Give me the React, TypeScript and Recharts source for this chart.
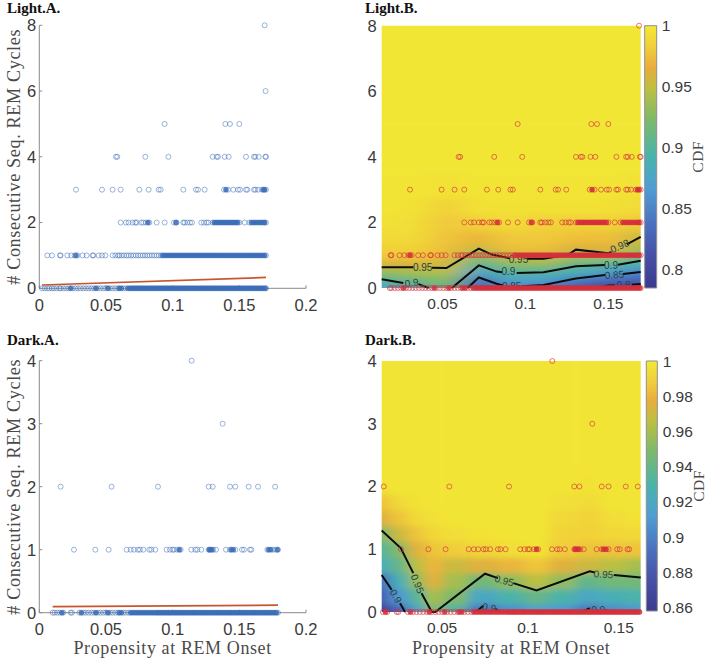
import React from "react";
import {
  Bar,
  ComposedChart,
  Line,
  Scatter,
  XAxis,
  YAxis,
} from "recharts";

// ---- Light: x values of the points on each y level ----
const lightRow0 = [
  0.002, 0.004, 0.006, 0.0075, 0.0095, 0.011, 0.013, 0.015, 0.016, 0.018, 0.02, 0.022, 0.0235, 0.025, 0.027, 0.029,
  0.031, 0.033, 0.035, 0.037, 0.039, 0.041, 0.0425, 0.044, 0.046, 0.048, 0.05, 0.0515, 0.053, 0.055, 0.057, 0.059,
  0.06, 0.0615, 0.063, 0.065, 0.0665, 0.068, 0.0692, 0.0705, 0.0718, 0.073, 0.0743, 0.0756, 0.0769, 0.078, 0.0794,
  0.0807, 0.082, 0.0833, 0.0846, 0.0859, 0.0871, 0.0884, 0.0897, 0.091, 0.0923, 0.0936, 0.0949, 0.0961, 0.0974,
  0.0987, 0.1, 0.1013, 0.1026, 0.1039, 0.1051, 0.1064, 0.1077, 0.109, 0.1103, 0.1116, 0.1129, 0.1141, 0.1154, 0.1167,
  0.118, 0.1193, 0.1206, 0.1219, 0.1231, 0.1244, 0.1257, 0.127, 0.1283, 0.1296, 0.1309, 0.1321, 0.1334, 0.1347,
  0.136, 0.1373, 0.1386, 0.1399, 0.1411, 0.1424, 0.1437, 0.145, 0.1463, 0.1476, 0.1489, 0.1501, 0.1514, 0.1527,
  0.154, 0.1553, 0.1566, 0.1579, 0.1591, 0.1604, 0.1617, 0.163, 0.1643, 0.1656, 0.1669, 0.1681, 0.1694, 0.17,
];
const lightRow1 = [
  0.006, 0.0095, 0.0155, 0.016, 0.021, 0.024, 0.0265, 0.0275, 0.0285, 0.0325, 0.0355, 0.04, 0.0405, 0.0445, 0.047,
  0.0495, 0.055, 0.057, 0.059, 0.06, 0.0618, 0.0636, 0.0654, 0.067, 0.0688, 0.0706, 0.0724, 0.0741, 0.0758, 0.0776,
  0.0793, 0.081, 0.0827, 0.0845, 0.0862, 0.088, 0.0897, 0.0915, 0.0925, 0.094, 0.0955, 0.097, 0.0985, 0.1, 0.1015,
  0.103, 0.1045, 0.106, 0.1075, 0.109, 0.1105, 0.112, 0.1135, 0.115, 0.1165, 0.118, 0.1195, 0.121, 0.1225, 0.124,
  0.1255, 0.127, 0.1285, 0.13, 0.1315, 0.133, 0.1345, 0.136, 0.1375, 0.139, 0.1405, 0.142, 0.1435, 0.145, 0.1465,
  0.148, 0.1495, 0.151, 0.1525, 0.154, 0.1555, 0.157, 0.1585, 0.16, 0.1615, 0.163, 0.1645, 0.166, 0.1675, 0.169, 0.17,
];
const lightRow2 = [
  0.061, 0.065, 0.067, 0.07, 0.072, 0.073, 0.0765, 0.078, 0.08, 0.0815, 0.0825, 0.088, 0.094, 0.101, 0.1025, 0.103,
  0.108, 0.109, 0.111, 0.113, 0.1145, 0.1215, 0.1235, 0.1255, 0.1268, 0.13, 0.1312, 0.1325, 0.1338, 0.135, 0.1362,
  0.1375, 0.1388, 0.14, 0.1412, 0.1425, 0.1438, 0.145, 0.1462, 0.1475, 0.1488, 0.15, 0.154, 0.1575, 0.159, 0.1605,
  0.162, 0.1635, 0.165, 0.1665, 0.168, 0.169, 0.17,
];
const lightRow3 = [
  0.0275, 0.047, 0.055, 0.061, 0.075, 0.082, 0.0895, 0.091, 0.108, 0.1175, 0.119, 0.124, 0.1385, 0.14, 0.1415, 0.1455,
  0.149, 0.1505, 0.155, 0.156, 0.161, 0.162, 0.164, 0.167, 0.168, 0.169, 0.17,
];
const lightRow4 = [
  0.0575, 0.0585, 0.0795, 0.0968, 0.13, 0.133, 0.134, 0.139, 0.142, 0.155, 0.161, 0.162, 0.1645, 0.1695, 0.17,
];
const lightRow5 = [0.094, 0.1395, 0.143, 0.15];
const lightRow6 = [0.1697];
const lightRow8 = [0.169];

// ---- Dark: x values of the points on each y level ----
const darkRow0 = [
  0.01, 0.0115, 0.0135, 0.0155, 0.017, 0.018, 0.0235, 0.0245, 0.03, 0.0315, 0.033, 0.035, 0.037, 0.039, 0.041, 0.0425,
  0.044, 0.046, 0.048, 0.05, 0.0515, 0.053, 0.055, 0.057, 0.059, 0.06, 0.0615, 0.063, 0.065, 0.067, 0.0685, 0.07,
  0.0715, 0.073, 0.0745, 0.076, 0.0775, 0.079, 0.0805, 0.082, 0.0835, 0.085, 0.0865, 0.088, 0.0892, 0.0905, 0.0918,
  0.093, 0.0943, 0.0956, 0.0969, 0.098, 0.0994, 0.1007, 0.102, 0.1033, 0.1046, 0.1059, 0.1071, 0.1084, 0.1097, 0.111,
  0.1123, 0.1136, 0.1149, 0.1161, 0.1174, 0.1187, 0.12, 0.1213, 0.1226, 0.1239, 0.1251, 0.1264, 0.1277, 0.129, 0.1303,
  0.1316, 0.1329, 0.1341, 0.1354, 0.1367, 0.138, 0.1393, 0.1406, 0.1419, 0.1431, 0.1444, 0.1457, 0.147, 0.1483, 0.1496,
  0.1509, 0.1521, 0.1534, 0.1547, 0.156, 0.1573, 0.1586, 0.1599, 0.1611, 0.1624, 0.1637, 0.165, 0.1663, 0.1676, 0.1689,
  0.1701, 0.1714, 0.1727, 0.174, 0.1753, 0.1766, 0.1779, 0.179,
];
const darkRow1 = [
  0.026, 0.042, 0.052, 0.0655, 0.0685, 0.071, 0.074, 0.0755, 0.078, 0.0825, 0.084, 0.087, 0.0955, 0.098, 0.1, 0.101,
  0.1035, 0.105, 0.106, 0.114, 0.117, 0.1185, 0.1215, 0.127, 0.1275, 0.1285, 0.1295, 0.1305, 0.1325, 0.14, 0.143, 0.144,
  0.1455, 0.147, 0.152, 0.1535, 0.158, 0.159, 0.171, 0.172, 0.1735, 0.175, 0.177, 0.1785, 0.179,
];
const darkRow2 = [0.016, 0.0542, 0.089, 0.127, 0.13, 0.143, 0.147, 0.157, 0.164, 0.1768];
const darkRow3 = [0.1375];
const darkRow4 = [0.1142];

// ---- Regression lines in the A panels ----
const lightFit = [
  { x: 0.002, y: 0.1 },
  { x: 0.17, y: 0.33 },
];
const darkFit = [
  { x: 0.01, y: 0.095 },
  { x: 0.179, y: 0.12 },
];

// ---- CDF surfaces, columns follow the x list, rows follow the y list ----
const lightHeatX = [0.01, 0.03, 0.05, 0.07, 0.09, 0.11, 0.13, 0.15, 0.17];
const lightHeatY = [0, 0.25, 0.5, 0.75, 1, 1.25, 1.5, 2, 2.5, 3, 4, 6, 8];
const lightHeat = [
  [0.875, 0.885, 0.91, 0.82, 0.85, 0.845, 0.815, 0.795, 0.79],
  [0.9, 0.915, 0.925, 0.84, 0.875, 0.87, 0.845, 0.83, 0.825],
  [0.93, 0.94, 0.945, 0.875, 0.9, 0.9, 0.885, 0.87, 0.85],
  [0.96, 0.96, 0.955, 0.905, 0.93, 0.935, 0.91, 0.905, 0.89],
  [0.98, 0.98, 0.97, 0.93, 0.955, 0.96, 0.94, 0.945, 0.92],
  [0.985, 0.985, 0.975, 0.955, 0.975, 0.975, 0.96, 0.965, 0.94],
  [0.99, 0.99, 0.977, 0.97, 0.98, 0.98, 0.975, 0.975, 0.955],
  [0.995, 0.992, 0.98, 0.985, 0.99, 0.985, 0.985, 0.985, 0.98],
  [0.997, 0.995, 0.985, 0.995, 0.995, 0.995, 0.995, 0.995, 0.99],
  [0.997, 0.997, 0.995, 0.997, 0.997, 0.997, 0.997, 0.997, 0.995],
  [0.998, 0.998, 0.998, 0.998, 0.998, 0.998, 0.998, 0.998, 0.998],
  [0.998, 0.998, 0.998, 0.998, 0.998, 0.998, 0.998, 0.998, 0.998],
  [0.998, 0.998, 0.998, 0.998, 0.998, 0.998, 0.998, 0.998, 0.998],
];

const darkHeatX = [0.0148, 0.025, 0.035, 0.045, 0.055, 0.075, 0.09, 0.105, 0.12, 0.135, 0.15, 0.1657];
const darkHeatY = [0, 0.25, 0.5, 0.75, 1, 1.25, 1.5, 1.75, 2, 2.5, 3, 4];
const darkHeat = [
  [0.865, 0.885, 0.915, 0.95, 0.93, 0.895, 0.905, 0.915, 0.91, 0.895, 0.905, 0.91],
  [0.885, 0.91, 0.935, 0.96, 0.95, 0.92, 0.93, 0.94, 0.93, 0.92, 0.925, 0.93],
  [0.895, 0.925, 0.955, 0.975, 0.96, 0.945, 0.955, 0.965, 0.955, 0.94, 0.945, 0.945],
  [0.925, 0.94, 0.965, 0.98, 0.97, 0.975, 0.98, 0.985, 0.975, 0.97, 0.965, 0.96],
  [0.935, 0.95, 0.975, 0.985, 0.988, 0.992, 0.995, 0.997, 0.988, 0.985, 0.985, 0.985],
  [0.95, 0.97, 0.985, 0.992, 0.995, 0.997, 0.998, 0.998, 0.991, 0.99, 0.992, 0.993],
  [0.975, 0.985, 0.993, 0.996, 0.998, 0.998, 0.998, 0.998, 0.993, 0.991, 0.995, 0.997],
  [0.985, 0.993, 0.997, 0.998, 0.998, 0.998, 0.998, 0.998, 0.996, 0.994, 0.998, 0.998],
  [0.997, 0.998, 0.998, 0.998, 0.998, 0.998, 0.998, 0.998, 0.998, 0.997, 0.998, 0.998],
  [0.998, 0.998, 0.998, 0.998, 0.998, 0.998, 0.998, 0.998, 0.998, 0.998, 0.998, 0.998],
  [0.998, 0.998, 0.998, 0.998, 0.998, 0.998, 0.998, 0.998, 0.998, 0.998, 0.998, 0.998],
  [0.998, 0.998, 0.998, 0.998, 0.998, 0.998, 0.998, 0.998, 0.998, 0.998, 0.998, 0.998],
];

// ---- Contours, one list per unbroken piece of line ----
const lightContours = [
  [[0.01, 0.63], [0.0296, 0.63]],
  [[0.041, 0.62], [0.05, 0.61], [0.07, 1.2], [0.078, 1.02], [0.0893, 0.91]],
  [[0.0996, 0.89], [0.11, 0.89], [0.125, 1.01], [0.13, 1.17], [0.15, 1.06], [0.152, 1.1]],
  [[0.1614, 1.33], [0.17, 1.56]],
  [[0.01, 0.27], [0.0233, 0.15]],
  [[0.0327, 0.12], [0.039, 0]],
  [[0.0533, 0], [0.07, 0.69], [0.081, 0.5], [0.0845, 0.48]],
  [[0.0934, 0.46], [0.11, 0.48], [0.13, 0.66], [0.148, 0.7]],
  [[0.156, 0.71], [0.17, 0.83]],
  [[0.063, 0], [0.07, 0.32], [0.081, 0.13], [0.085, 0.08]],
  [[0.0965, 0.05], [0.11, 0.09], [0.13, 0.29], [0.148, 0.4]],
  [[0.159, 0.43], [0.17, 0.49]],
  [[0.142, 0], [0.15, 0.08], [0.154, 0.08]],
  [[0.1645, 0.1], [0.17, 0.12]],
];
const lightContourLabels = [
  { x: 0.0353, y: 0.62, text: "0.95", angle: 0 },
  { x: 0.0945, y: 0.88, text: "0.95", angle: 0 },
  { x: 0.157, y: 1.28, text: "0.98", angle: -24 },
  { x: 0.0285, y: 0.16, text: "0.9", angle: -8 },
  { x: 0.0883, y: 0.49, text: "0.9", angle: 0 },
  { x: 0.1517, y: 0.7, text: "0.9", angle: 0 },
  { x: 0.0903, y: 0.05, text: "0.85", angle: 0 },
  { x: 0.1538, y: 0.4, text: "0.85", angle: -4 },
  { x: 0.1594, y: 0.08, text: "0.8", angle: 0 },
];

const darkContours = [
  [[0.0148, 1.3], [0.0259, 1.02], [0.0332, 0.62]],
  [[0.038, 0.3], [0.044, 0], [0.046, 0], [0.075, 0.61], [0.0825, 0.54]],
  [[0.0915, 0.46], [0.105, 0.345], [0.136, 0.65], [0.139, 0.63]],
  [[0.15, 0.59], [0.1657, 0.55]],
  [[0.0148, 0.59], [0.0206, 0.355]],
  [[0.0255, 0.14], [0.0284, 0]],
  [[0.0697, 0], [0.074, 0.1]],
  [[0.081, 0.05], [0.084, 0]],
  [[0.1317, 0], [0.136, 0.06]],
  [[0.145, 0.03], [0.1482, 0]],
];
const darkContourLabels = [
  { x: 0.0356, y: 0.45, text: "0.95", angle: 68 },
  { x: 0.0862, y: 0.5, text: "0.95", angle: 15 },
  { x: 0.144, y: 0.6, text: "0.95", angle: 3 },
  { x: 0.023, y: 0.25, text: "0.9", angle: 60 },
  { x: 0.0775, y: 0.07, text: "0.9", angle: 10 },
  { x: 0.141, y: 0.03, text: "0.9", angle: 0 },
];

// ---- Colour bar ticks and colour map ----
const lightBarTicks = [0.8, 0.85, 0.9, 0.95, 1];
const darkBarTicks = [0.86, 0.88, 0.9, 0.92, 0.94, 0.96, 0.98, 1];
const mapStops: [number, string][] = [
  [0, "#3b3a8f"],
  [0.12, "#4650a5"],
  [0.23, "#4a6cbc"],
  [0.38, "#4f9dd4"],
  [0.5, "#48b3ac"],
  [0.64, "#7db96b"],
  [0.76, "#bcc041"],
  [0.84, "#e9ad3c"],
  [0.92, "#f1cf3a"],
  [1, "#f2e935"],
];

const sans = "'Liberation Sans', Arial, sans-serif";
const serif = "'Liberation Serif', 'Times New Roman', serif";
const yTitle = "# Consecutive Seq.  REM Cycles";
const xTitle = "Propensity at REM Onset";

const mapColor = (v: number, lo: number, hi: number) => {
  const t = Math.max(0, Math.min(1, (v - lo) / (hi - lo)));
  let i = 0;
  while (i < mapStops.length - 2 && mapStops[i + 1][0] < t) i++;
  const [t0, c0] = mapStops[i];
  const [t1, c1] = mapStops[i + 1];
  const f = (t - t0) / (t1 - t0);
  const ch = (c: string, k: number) => parseInt(c.slice(1 + k * 2, 3 + k * 2), 16);
  const mix = [0, 1, 2].map((k) => Math.round(ch(c0, k) + (ch(c1, k) - ch(c0, k)) * f));
  return `rgb(${mix[0]},${mix[1]},${mix[2]})`;
};

// points packed tightly on both sides merge into a solid band in the picture
const toPoints = (rows: [number[], number][]) =>
  rows.flatMap(([xs, y]) =>
    xs.map((x, i) => ({
      x,
      y,
      dense: i > 0 && i < xs.length - 1 && x - xs[i - 1] < 0.0016 && xs[i + 1] - x < 0.0016,
    })),
  );

const lightPoints = toPoints([
  [lightRow0, 0],
  [lightRow1, 1],
  [lightRow2, 2],
  [lightRow3, 3],
  [lightRow4, 4],
  [lightRow5, 5],
  [lightRow6, 6],
  [lightRow8, 8],
]);
const darkPoints = toPoints([
  [darkRow0, 0],
  [darkRow1, 1],
  [darkRow2, 2],
  [darkRow3, 3],
  [darkRow4, 4],
]);

const heatCells = (xs: number[], ys: number[], table: number[][], padX: number, padY: number) => {
  const edge = (list: number[], i: number, pad: number) => [
    i === 0 ? list[0] - pad : (list[i - 1] + list[i]) / 2,
    i === list.length - 1 ? list[i] + pad : (list[i] + list[i + 1]) / 2,
  ];
  return ys.flatMap((y, r) =>
    xs.map((x, c) => {
      const [x0, x1] = edge(xs, c, padX);
      const [y0, y1] = edge(ys, r, padY);
      return { x, y, x0, x1, y0, y1, v: table[r][c] };
    }),
  );
};

const circle = (stroke: string, opacity: number, width: number) => (props: any) => (
  <circle
    cx={props.cx}
    cy={props.cy}
    r={2.5}
    fill={props.payload.dense ? stroke : "none"}
    fillOpacity={0.85}
    stroke={stroke}
    strokeOpacity={opacity}
    strokeWidth={width}
  />
);

const contourText = (props: any) => {
  const { cx, cy, payload } = props;
  return (
    <text
      x={cx}
      y={cy}
      fontSize={10}
      fontFamily={sans}
      fill="#27423f"
      textAnchor="middle"
      dominantBaseline="central"
      transform={`rotate(${payload.angle} ${cx} ${cy})`}
    >
      {payload.text}
    </text>
  );
};

const tickStyle = { fontSize: 16.5, fontFamily: sans, fill: "#3a3a3a" };
const heatTickStyle = { fontSize: 15.5, fontFamily: sans, fill: "#3a3a3a" };
// an object position is taken from the axis box: x from its left, y from its top
const yLabel = (y: number) => ({
  value: yTitle,
  angle: -90,
  position: { x: 20, y },
  style: { textAnchor: "middle", fontFamily: serif, fontSize: 18.2, fill: "#4a4a4a", letterSpacing: 0.62 },
});
const xLabel = {
  value: xTitle,
  position: "insideBottom",
  offset: 8,
  style: { fontFamily: serif, fontSize: 18, fill: "#4a4a4a", letterSpacing: 0.6 },
};

const Title = ({ left, top, text }: { left: number; top: number; text: string }) => (
  <div
    style={{
      position: "absolute",
      left,
      top,
      fontFamily: serif,
      fontWeight: "bold",
      fontSize: 15,
      lineHeight: "16px",
      color: "#111",
    }}
  >
    {text}
  </div>
);

const ScatterPanel = ({ top, height, plotTop, plotBottom, yMax, yTicks, points, fit, withX }: any) => (
  <div style={{ position: "absolute", left: 0, top }}>
    <ComposedChart
      width={340}
      height={height}
      margin={{ top: plotTop, right: 34, left: 0, bottom: 0 }}
    >
      <XAxis
        type="number"
        dataKey="x"
        domain={[0, 0.2]}
        ticks={[0, 0.05, 0.1, 0.15, 0.2]}
        height={height - plotBottom}
        stroke="#8a8a8a"
        tick={tickStyle}
        tickSize={-3}
        tickMargin={14}
        label={withX ? xLabel : undefined}
      />
      <YAxis
        type="number"
        dataKey="y"
        domain={[0, yMax]}
        ticks={yTicks}
        width={39.3}
        stroke="#8a8a8a"
        tick={tickStyle}
        tickSize={-3}
        tickMargin={6}
        label={yLabel((plotBottom - plotTop) / 2)}
      />
      <Scatter data={points} isAnimationActive={false} shape={circle("#3c6eb8", 0.65, 0.8)} />
      <Line
        data={fit}
        dataKey="y"
        stroke="#c8562c"
        strokeWidth={1.7}
        dot={false}
        legendType="none"
        zIndex={700}
        isAnimationActive={false}
      />
    </ComposedChart>
  </div>
);

const HeatPanel = ({
  id,
  top,
  height,
  plotTop,
  plotBottom,
  domainX,
  yMax,
  yTicks,
  tickShift,
  cells,
  low,
  points,
  contours,
  labels,
  withX,
}: any) => {
  const plotLeft = 41.7;
  const plotWidth = 259;
  const pxX = plotWidth / (domainX[1] - domainX[0]);
  const pxY = (plotBottom - plotTop) / yMax;
  const cellShape = (props: any) => {
    const { cx, cy, payload: p } = props;
    return (
      <rect
        x={cx + (p.x0 - p.x) * pxX}
        y={cy - (p.y1 - p.y) * pxY}
        width={(p.x1 - p.x0) * pxX + 0.6}
        height={(p.y1 - p.y0) * pxY + 0.6}
        fill={mapColor(p.v, low, 1)}
      />
    );
  };
  // the printed tick labels sit a little off the data scale
  const xTick = (props: any) => (
    <text
      x={props.x + tickShift[props.index]}
      y={props.y}
      dy="0.71em"
      textAnchor="middle"
      style={heatTickStyle}
    >
      {props.payload.value}
    </text>
  );
  return (
    <div style={{ position: "absolute", left: 340, top }}>
      <style>{`.heat-${id}{filter:url(#blur-${id});clip-path:url(#clip-${id})}`}</style>
      <svg width={0} height={0} style={{ position: "absolute" }}>
        <defs>
          <filter id={`blur-${id}`} x="-20%" y="-20%" width="140%" height="140%">
            <feGaussianBlur stdDeviation={id === "light" ? "13 3" : "6 3"} />
          </filter>
          <clipPath id={`clip-${id}`}>
            <rect x={plotLeft} y={plotTop} width={plotWidth} height={plotBottom - plotTop} />
          </clipPath>
        </defs>
      </svg>
      <ComposedChart
        width={340}
        height={height}
        margin={{ top: plotTop, right: 340 - plotLeft - plotWidth, left: 0, bottom: 0 }}
      >
        <XAxis
          type="number"
          dataKey="x"
          domain={domainX}
          ticks={[0.05, 0.1, 0.15]}
          height={height - plotBottom}
          axisLine={false}
          tickLine={false}
          tick={xTick}
          tickSize={0}
          tickMargin={10}
          label={withX ? xLabel : undefined}
        />
        <YAxis
          type="number"
          dataKey="y"
          domain={[0, yMax]}
          ticks={yTicks}
          width={plotLeft}
          axisLine={false}
          tickLine={false}
          tick={tickStyle}
          tickSize={0}
          tickMargin={5}
        />
        <Scatter
          className={`heat-${id}`}
          zIndex={100}
          data={cells}
          isAnimationActive={false}
          shape={cellShape}
        />
        {contours.map((piece: number[][], i: number) => (
          <Line
            key={i}
            data={piece.map(([x, y]) => ({ x, y }))}
            dataKey="y"
            stroke="#0c0c0c"
            strokeWidth={2}
            dot={false}
            isAnimationActive={false}
          />
        ))}
        <Scatter data={labels} isAnimationActive={false} shape={contourText} />
        <Scatter data={points} isAnimationActive={false} shape={circle("#d4303c", 0.8, 0.8)} />
      </ComposedChart>
    </div>
  );
};

const ColorBar = ({ id, top, height, plotTop, plotBottom, barLeft, barWidth, low, ticks }: any) => (
  <div style={{ position: "absolute", left: 640, top }}>
    <svg width={0} height={0} style={{ position: "absolute" }}>
      <defs>
        <linearGradient id={`bar-${id}`} x1="0" y1="1" x2="0" y2="0">
          {mapStops.map(([t, c]) => (
            <stop key={t} offset={t} stopColor={c} />
          ))}
        </linearGradient>
      </defs>
    </svg>
    <ComposedChart
      width={67}
      height={height}
      data={[{ name: "CDF", range: [low, 1] }]}
      barCategoryGap={0}
      margin={{ top: plotTop, right: 0, left: barLeft, bottom: height - plotBottom }}
    >
      <XAxis dataKey="name" hide />
      <YAxis
        orientation="right"
        type="number"
        domain={[low, 1]}
        ticks={ticks}
        width={67 - barLeft - barWidth}
        axisLine={false}
        tickLine={false}
        tick={heatTickStyle}
        tickSize={0}
        tickMargin={5}
        label={{
          value: "CDF",
          angle: -90,
          position: { x: 46.3, y: (plotBottom - plotTop) / 2 },
          style: { textAnchor: "middle", fontFamily: serif, fontSize: 15.5, fill: "#4a4a4a", letterSpacing: 0.5 },
        }}
      />
      <Bar dataKey="range" fill={`url(#bar-${id})`} stroke="#8f8f8f" strokeWidth={1} isAnimationActive={false} />
    </ComposedChart>
  </div>
);

const lightCells = heatCells(lightHeatX, lightHeatY, lightHeat, 0.04, 0.5);
const darkCells = heatCells(darkHeatX, darkHeatY, darkHeat, 0.03, 0.3);
const lightInB = lightPoints.filter((p) => p.x >= 0.015 && p.y !== 6);
const darkInB = darkPoints.filter((p) => p.x >= 0.0148 && p.x <= 0.1657);

export default function App() {
  return (
    <div style={{ position: "absolute", left: 0, top: 0, width: 707, height: 662, background: "#fff", overflow: "hidden" }}>
      <ScatterPanel
        top={0}
        height={325}
        plotTop={25.3}
        plotBottom={288.3}
        yMax={8}
        yTicks={[0, 2, 4, 6, 8]}
        points={lightPoints}
        fit={lightFit}
      />
      <ScatterPanel
        top={325}
        height={337}
        plotTop={35.7}
        plotBottom={287.7}
        yMax={4}
        yTicks={[0, 1, 2, 3, 4]}
        points={darkPoints}
        fit={darkFit}
        withX
      />

      <HeatPanel
        id="light"
        top={0}
        height={325}
        plotTop={25.7}
        plotBottom={288}
        domainX={[0.01, 0.17]}
        yMax={8}
        yTicks={[0, 2, 4, 6, 8]}
        tickShift={[-4, -2, 0]}
        cells={lightCells}
        low={0.785}
        points={lightInB}
        contours={lightContours}
        labels={lightContourLabels}
      />
      <HeatPanel
        id="dark"
        top={325}
        height={337}
        plotTop={36}
        plotBottom={287}
        domainX={[0.0148, 0.1657]}
        yMax={4}
        yTicks={[0, 1, 2, 3, 4]}
        tickShift={[0, 0, 5]}
        cells={darkCells}
        low={0.858}
        points={darkInB}
        contours={darkContours}
        labels={darkContourLabels}
        withX
      />

      <ColorBar id="light" top={0} height={325} plotTop={25.7} plotBottom={288} barLeft={4.7} barWidth={12} low={0.785} ticks={lightBarTicks} />
      <ColorBar id="dark" top={325} height={337} plotTop={36} plotBottom={286} barLeft={6.3} barWidth={11.4} low={0.858} ticks={darkBarTicks} />

      <Title left={7} top={0} text="Light.A." />
      <Title left={365} top={0} text="Light.B." />
      <Title left={7} top={332} text="Dark.A." />
      <Title left={365} top={332} text="Dark.B." />
    </div>
  );
}
